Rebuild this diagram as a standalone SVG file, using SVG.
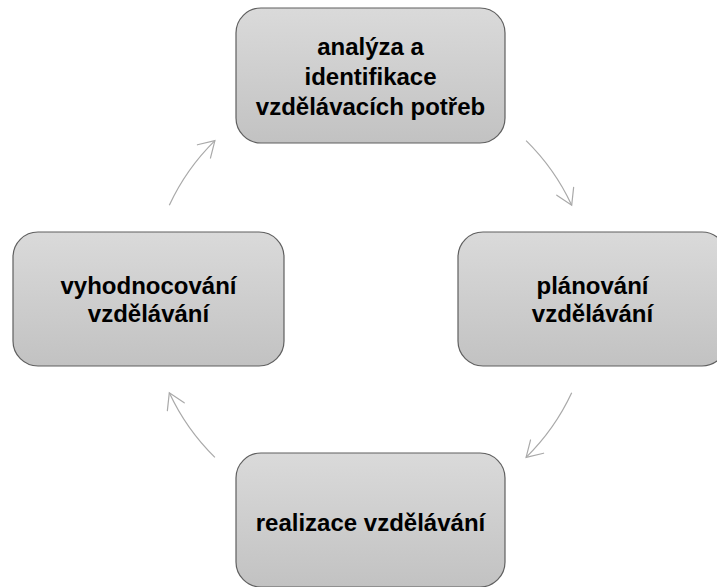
<svg xmlns="http://www.w3.org/2000/svg" width="717" height="587" viewBox="0 0 717 587">
  <defs>
    <linearGradient id="nodeFill" x1="0" y1="0" x2="0" y2="1">
      <stop offset="0" stop-color="#dadada"/>
      <stop offset="1" stop-color="#c2c2c2"/>
    </linearGradient>
    <marker id="arrowOpen" markerUnits="userSpaceOnUse" markerWidth="24" markerHeight="24" viewBox="-18 -12 20 24" refX="0" refY="0" orient="auto">
      <path d="M-15.4,-9.3 L0,0 L-15.4,9.3" fill="none" stroke="#a9a9a9" stroke-width="1.2" stroke-linecap="round" stroke-linejoin="miter"/>
    </marker>
  </defs>
  <style>
    .box { fill: url(#nodeFill); stroke: #5f5f5f; stroke-width: 1.2; }
    .label { font-family: "Liberation Sans", Arial, sans-serif; font-weight: bold; font-size: 24px; fill: #000000; text-anchor: middle; }
    .conn { fill: none; stroke: #a9a9a9; stroke-width: 1.2; marker-end: url(#arrowOpen); }
  </style>
  <rect width="717" height="587" fill="#ffffff"/>

  <g id="connectors">
    <path class="conn" d="M526.1,140.6 A222,222 0 0 1 571.7,205.2"/>
    <path class="conn" d="M571.7,392.8 A222,222 0 0 1 526.1,457.4"/>
    <path class="conn" d="M214.9,457.4 A222,222 0 0 1 169.3,392.8"/>
    <path class="conn" d="M169.3,205.2 A222,222 0 0 1 214.9,140.6"/>
  </g>

  <g id="node-analyza">
    <rect class="box" x="236" y="8" width="269" height="135" rx="25" ry="25"/>
    <text class="label" x="370.5" y="55">analýza a</text>
    <text class="label" x="370.5" y="85">identifikace</text>
    <text class="label" x="370.5" y="114.5">vzdělávacích potřeb</text>
  </g>

  <g id="node-planovani">
    <rect class="box" x="458" y="232" width="269" height="134" rx="25" ry="25"/>
    <text class="label" x="592.5" y="293.5">plánování</text>
    <text class="label" x="592.5" y="322">vzdělávání</text>
  </g>

  <g id="node-realizace">
    <rect class="box" x="236" y="453" width="269" height="134" rx="25" ry="25"/>
    <text class="label" x="370.5" y="531">realizace vzdělávání</text>
  </g>

  <g id="node-vyhodnocovani">
    <rect class="box" x="13" y="232" width="271" height="134" rx="25" ry="25"/>
    <text class="label" x="148.5" y="293.5">vyhodnocování</text>
    <text class="label" x="148.5" y="322">vzdělávání</text>
  </g>
</svg>
